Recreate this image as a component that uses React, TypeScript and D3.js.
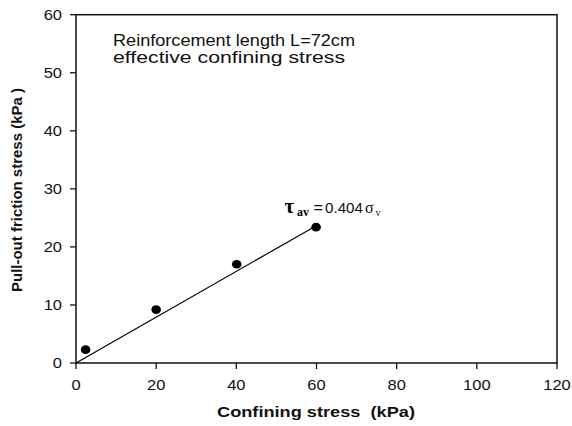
import React from "react";
import * as d3 from "d3";

const confiningStress = [2.4, 20, 40.1, 59.9];
const frictionStress = [2.3, 9.2, 17.0, 23.4];
const fitX = [0, 59.3];
const fitY = [0, 23.4];
const xTicks = [0, 20, 40, 60, 80, 100, 120];
const yTicks = [0, 10, 20, 30, 40, 50, 60];
const noteLines = ["Reinforcement length L=72cm", "effective confining stress"];
const xTitle = "Confining stress  (kPa)";
const yTitle = "Pull-out friction stress (kPa )";

const W = 572;
const H = 426;
const L = 76;
const R = 557;
const T = 14.7;
const B = 363;
const SX = 1.18;

export default function App() {
  const x = d3.scaleLinear().domain([0, 120]).range([L, R]);
  const y = d3.scaleLinear().domain([0, 60]).range([B, T]);
  const line = d3
    .line<number>()
    .x((d) => x(d))
    .y((_, i) => y(fitY[i]));
  const sans = "'Liberation Sans', Arial, sans-serif";
  const serif = "'Liberation Serif', 'Times New Roman', serif";
  return (
    <div style={{ position: "absolute", left: 0, top: 0 }}>
      <svg width={W} height={H} style={{ display: "block", background: "#fff" }}>
        <rect x={L} y={T} width={R - L} height={B - T} fill="none" stroke="#111" strokeWidth={1.5} />
        {xTicks.map((t) => (
          <g key={"x" + t}>
            <line x1={x(t)} x2={x(t)} y1={B} y2={B + 6} stroke="#111" strokeWidth={1.3} />
            <text
              transform={`translate(${x(t)},389.5) scale(${SX},1)`}
              textAnchor="middle"
              fontFamily={sans}
              fontSize={14}
              fill="#111"
            >
              {t}
            </text>
          </g>
        ))}
        {yTicks.map((t) => (
          <g key={"y" + t}>
            <line x1={L - 6} x2={L} y1={y(t)} y2={y(t)} stroke="#111" strokeWidth={1.3} />
            <text
              transform={`translate(62,${y(t) + 5}) scale(${SX},1)`}
              textAnchor="end"
              fontFamily={sans}
              fontSize={14}
              fill="#111"
            >
              {t}
            </text>
          </g>
        ))}
        <path d={line(fitX) || ""} fill="none" stroke="#000" strokeWidth={1.2} />
        {confiningStress.map((v, i) => (
          <ellipse key={"p" + i} cx={x(v)} cy={y(frictionStress[i])} rx={4.8} ry={4.3} fill="#000" />
        ))}
        {noteLines.map((s, i) => (
          <text
            key={"n" + i}
            x={113}
            y={46 + i * 17}
            fontFamily={sans}
            fontSize={16.5}
            fill="#111"
            textLength={i === 0 ? 242 : 232}
            lengthAdjust="spacingAndGlyphs"
          >
            {s}
          </text>
        ))}
        <text
          x={217}
          y={417}
          fontFamily={sans}
          fontWeight="bold"
          fontSize={15.5}
          fill="#111"
          textLength={198}
          lengthAdjust="spacingAndGlyphs"
          style={{ whiteSpace: "pre" }}
        >
          {xTitle}
        </text>
        <text
          transform="translate(22,292) rotate(-90)"
          fontFamily={sans}
          fontWeight="bold"
          fontSize={15}
          fill="#111"
          textLength={204}
          lengthAdjust="spacingAndGlyphs"
        >
          {yTitle}
        </text>
        <text x={284.5} y={213.3} fontFamily={serif} fontWeight="bold" fontSize={21} fill="#000">
          τ
        </text>
        <text x={297} y={215.5} fontFamily={serif} fontWeight="bold" fontSize={12} fill="#000">
          av
        </text>
        <text transform={`translate(313.5,213.3) scale(${SX},1)`} fontFamily={sans} fontSize={14} fill="#111">
          =
        </text>
        <text x={325} y={213.3} fontFamily={sans} fontSize={14} fill="#111" textLength={38} lengthAdjust="spacingAndGlyphs">
          0.404
        </text>
        <text x={365} y={213.3} fontFamily={serif} fontSize={16} fill="#111">
          σ
        </text>
        <text x={375.5} y={216} fontFamily={serif} fontSize={10} fill="#111">
          v
        </text>
      </svg>
    </div>
  );
}
